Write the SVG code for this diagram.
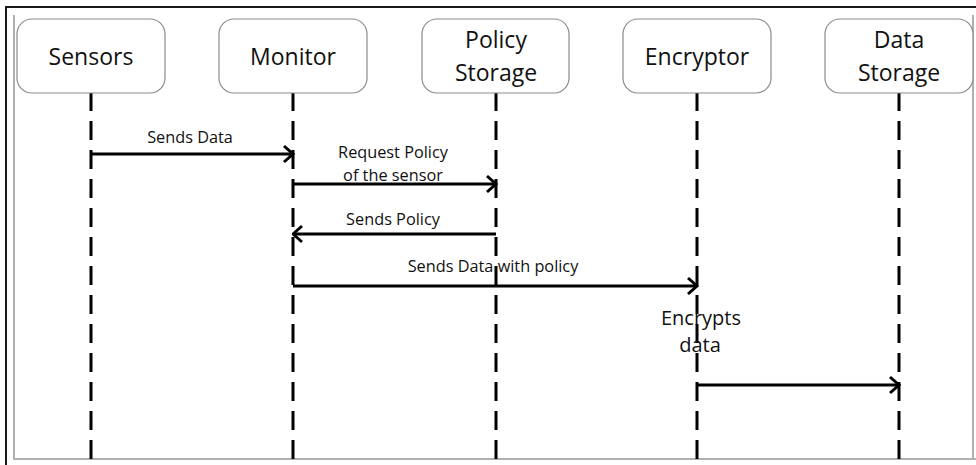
<svg xmlns="http://www.w3.org/2000/svg" width="976" height="465" viewBox="0 0 976 465">
  <defs>
    <style>
      .box { fill: #ffffff; stroke: #8c8c8c; stroke-width: 1.2; }
      .title { font-family: "Open Sans", "Liberation Sans", sans-serif; font-size: 23px; fill: #111; text-anchor: middle; }
      .msg { font-family: "Open Sans", "Liberation Sans", sans-serif; font-size: 16.3px; fill: #111; text-anchor: middle; }
      .note { font-family: "Open Sans", "Liberation Sans", sans-serif; font-size: 20px; fill: #111; text-anchor: middle; }
      .life { stroke: #000; stroke-width: 3; stroke-dasharray: 19 10; fill: none; }
      .arrow { stroke: #000; stroke-width: 3; fill: none; marker-end: url(#head); }
      .frame-dark { stroke: #1a1a1a; stroke-width: 2; fill: none; }
      .frame-light { stroke: #b0b0b0; stroke-width: 2; fill: none; }
    </style>
    <marker id="head" viewBox="0 0 12 20" refX="10.5" refY="10" markerWidth="12" markerHeight="20" markerUnits="userSpaceOnUse" orient="auto">
      <path d="M1.5,2 L10.5,10 L1.5,18" fill="none" stroke="#000" stroke-width="3"/>
    </marker>
  </defs>

  <rect x="0" y="0" width="976" height="465" fill="#ffffff"/>

  <!-- frame -->
  <g id="frame">
    <path class="frame-dark" d="M6,465 L6,7 L976,7"/>
    <path class="frame-light" d="M14,15 L14,459 L976,459"/>
    <path class="frame-light" d="M973,15 L973,459"/>
  </g>

  <!-- lifelines -->
  <g id="lifelines">
    <line class="life" x1="91" y1="92" x2="91" y2="459"/>
    <line class="life" x1="293" y1="92" x2="293" y2="459"/>
    <line class="life" x1="496" y1="92" x2="496" y2="459"/>
    <line class="life" x1="697" y1="92" x2="697" y2="459"/>
    <line class="life" x1="899" y1="92" x2="899" y2="459"/>
  </g>

  <!-- participants -->
  <g id="sensors">
    <rect class="box" x="17" y="19" width="148" height="74" rx="15"/>
    <text class="title" x="91" y="65">Sensors</text>
  </g>
  <g id="monitor">
    <rect class="box" x="219" y="19" width="148" height="74" rx="15"/>
    <text class="title" x="293" y="65">Monitor</text>
  </g>
  <g id="policy-storage">
    <rect class="box" x="422" y="19" width="147" height="74" rx="15"/>
    <text class="title" x="496" y="48">Policy</text>
    <text class="title" x="496" y="81">Storage</text>
  </g>
  <g id="encryptor">
    <rect class="box" x="623" y="19" width="148" height="74" rx="15"/>
    <text class="title" x="697" y="65">Encryptor</text>
  </g>
  <g id="data-storage">
    <rect class="box" x="825" y="19" width="148" height="74" rx="15"/>
    <text class="title" x="899" y="48">Data</text>
    <text class="title" x="899" y="81">Storage</text>
  </g>

  <!-- messages -->
  <g id="connectors">
    <line class="arrow" x1="91" y1="154" x2="293" y2="154"/>
    <line class="arrow" x1="293" y1="184" x2="496" y2="184"/>
    <line class="arrow" x1="496" y1="234" x2="293" y2="234"/>
    <line class="arrow" x1="293" y1="286" x2="697" y2="286"/>
    <line class="arrow" x1="697" y1="385" x2="899" y2="385"/>
  </g>

  <g id="labels">
    <text class="msg" x="190" y="143">Sends Data</text>
    <text class="msg" x="393" y="158">Request Policy</text>
    <text class="msg" x="393" y="181">of the sensor</text>
    <text class="msg" x="393" y="225">Sends Policy</text>
    <text class="msg" x="493" y="272">Sends Data with policy</text>
  </g>

  <g id="encrypts-data">
    <text class="note" x="701" y="325">Encrypts</text>
    <text class="note" x="700" y="352">data</text>
  </g>
</svg>
